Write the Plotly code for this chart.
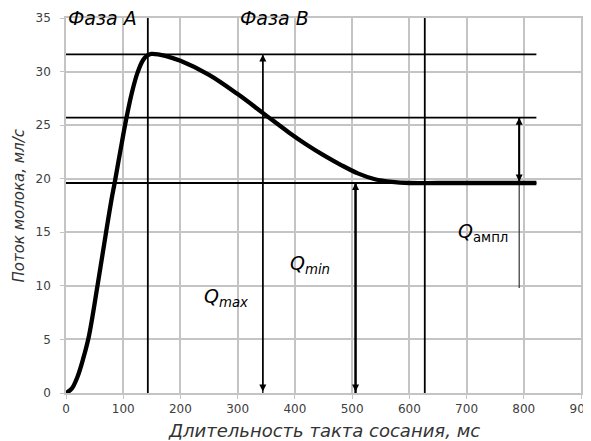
import plotly.graph_objects as go

# Curve: milk flow vs. sucking cycle duration
t_ms = [0, 10, 20, 30, 40, 55, 70, 80, 85, 95, 105, 115, 125, 135, 142, 149,
        175, 200, 250, 300, 345, 390, 420, 450, 480, 510, 540, 570, 600,
        650, 700, 750, 800, 822]
flow = [0, 0.4, 1.5, 3.2, 5.3, 10.0, 15.0, 18.2, 19.6, 22.6, 25.5, 28.0, 29.9,
        31.1, 31.5, 31.65, 31.45, 31.0, 29.7, 27.9, 26.1, 24.3, 23.2, 22.2,
        21.3, 20.5, 19.95, 19.7, 19.6, 19.6, 19.6, 19.6, 19.6, 19.6]

# Reference levels (Qmax, upper amplitude level, Qmin)
levels = [31.6, 25.7, 19.6]
level_end = 822
# Phase boundaries
phase_x = [143, 627]
phase_labels = ["Фаза А", "Фаза В"]
phase_label_x = [64, 365]

# Arrows: x, from, to
arrow_x = [344, 506, 792]
arrow_from = [0, 0, 19.6]
arrow_to = [31.6, 19.6, 25.7]
ampl_tail = [9.8, 19.6]

x_ticks = [0, 100, 200, 300, 400, 500, 600, 700, 800, 900]
y_ticks = [0, 5, 10, 15, 20, 25, 30, 35]

fig = go.Figure()

for lv in levels:
    fig.add_trace(go.Scatter(x=[0, level_end], y=[lv, lv], mode="lines",
                             line=dict(color="black", width=1.8),
                             showlegend=False, hoverinfo="skip"))
for px in phase_x:
    fig.add_trace(go.Scatter(x=[px, px], y=[0, 35], mode="lines",
                             line=dict(color="black", width=1.8),
                             showlegend=False, hoverinfo="skip"))

fig.add_trace(go.Scatter(x=[arrow_x[2], arrow_x[2]], y=ampl_tail, mode="lines",
                         line=dict(color="#333333", width=1.2),
                         showlegend=False, hoverinfo="skip"))

shaft_w = [1.3, 2.4, 2.0]
for ax_, a0, a1, w in zip(arrow_x, arrow_from, arrow_to, shaft_w):
    fig.add_trace(go.Scatter(x=[ax_, ax_], y=[a0, a1], mode="lines",
                             line=dict(color="black", width=w),
                             showlegend=False, hoverinfo="skip"))

fig.add_trace(go.Scatter(x=t_ms, y=flow, mode="lines", line_shape="spline",
                         line=dict(color="black", width=4.3),
                         showlegend=False, hoverinfo="skip"))

for ax_, a0, a1 in zip(arrow_x, arrow_from, arrow_to):
    fig.add_annotation(x=ax_, y=a1, ax=ax_, ay=a0, xref="x", yref="y",
                       axref="x", ayref="y", showarrow=True, text="",
                       arrowhead=2, arrowside="end+start", arrowsize=1.0,
                       arrowwidth=1.4, arrowcolor="black")

for lab, lx in zip(phase_labels, phase_label_x):
    fig.add_annotation(x=lx, y=35, text="<i>" + lab + "</i>", showarrow=False,
                       font=dict(size=19, color="black", family="DejaVu Sans"),
                       xanchor="center", yanchor="middle")

q_texts = ["<i>Q<sub>max</sub></i>", "<i>Q<sub>min</sub></i>", "<i>Q</i><sub>ампл</sub>"]
q_x = [279, 426, 729]
q_y = [8.9, 12.0, 15.0]
for qt, qx, qy in zip(q_texts, q_x, q_y):
    fig.add_annotation(x=qx, y=qy, text=qt, showarrow=False,
                       font=dict(size=19, color="black", family="DejaVu Sans"),
                       xanchor="center", yanchor="middle")

# Axis titles
fig.add_annotation(x=0.5, y=0, xref="paper", yref="paper", yshift=-37,
                   text="<i>Длительность такта сосания, мс</i>", showarrow=False,
                   font=dict(size=18, color="#333333", family="DejaVu Sans"),
                   xanchor="center", yanchor="middle")
fig.add_annotation(x=0, y=0.5, xref="paper", yref="paper", xshift=-48,
                   text="<i>Поток молока, мл/с</i>", showarrow=False, textangle=-90,
                   font=dict(size=15, color="#333333", family="DejaVu Sans"),
                   xanchor="center", yanchor="middle")

# The page places the figure 8 px in from the top-left corner
fig.update_layout(
    width=583, height=433,
    margin=dict(l=58, r=10, t=10, b=48),
    plot_bgcolor="white", paper_bgcolor="white",
    font=dict(family="DejaVu Sans", size=12, color="#404040"),
)
fig.update_xaxes(range=[0, 900], tickvals=x_ticks, showgrid=True, automargin=False,
                 gridcolor="#c4c4c4", gridwidth=1.5, zeroline=False,
                 ticks="outside", ticklen=4, tickcolor="#c4c4c4",
                 ticklabeloverflow="allow",
                 showline=True, linecolor="#c4c4c4", linewidth=1.5, mirror=True,
                 tickfont=dict(size=12, color="#404040"))
fig.update_yaxes(range=[0, 35], tickvals=y_ticks, showgrid=True, automargin=False,
                 gridcolor="#c4c4c4", gridwidth=1.5, zeroline=False,
                 ticks="outside", ticklen=4, tickcolor="#c4c4c4",
                 ticklabelstandoff=7, ticklabeloverflow="allow",
                 showline=True, linecolor="#c4c4c4", linewidth=1.5, mirror=True,
                 tickfont=dict(size=12, color="#404040"))

fig.write_html("out.html")
